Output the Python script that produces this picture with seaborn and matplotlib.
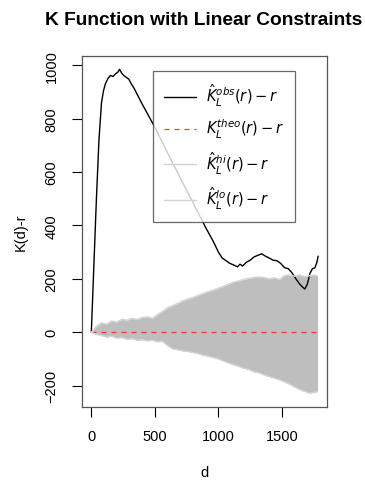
import numpy as np
import pandas as pd
import matplotlib
matplotlib.use('Agg')
import matplotlib.pyplot as plt
import seaborn as sns

# observed K_L(r) - r
d_obs = [0, 20, 40, 60, 80, 96, 110, 130, 150, 170, 190, 210, 222, 240, 255, 275,
         295, 315, 335, 400, 500, 600, 700, 800, 900, 960, 1000, 1030, 1060, 1090,
         1120, 1150, 1170, 1190, 1220, 1250, 1280, 1310, 1340, 1370, 1400, 1430,
         1460, 1490, 1520, 1550, 1580, 1610, 1640, 1665, 1680, 1700, 1720, 1740,
         1760, 1775, 1785]
k_obs = [0, 250, 500, 720, 860, 905, 930, 950, 962, 958, 968, 975, 985, 970, 962, 955,
         948, 930, 915, 855, 768, 672, 578, 486, 392, 340, 300, 278, 268, 258,
         252, 245, 255, 248, 262, 270, 282, 288, 294, 285, 278, 270,
         268, 258, 242, 238, 222, 200, 180, 168, 162, 180, 220, 238,
         242, 262, 285]

# simulation envelope
d_env = [0, 40, 80, 120, 160, 200, 240, 280, 320, 360, 400, 440, 480, 520, 560, 600,
         640, 680, 720, 760, 800, 840, 880, 920, 960, 1000, 1040, 1080, 1120, 1160,
         1200, 1240, 1280, 1320, 1360, 1400, 1440, 1480, 1520, 1560, 1600, 1640,
         1680, 1720, 1760, 1780]
k_hi = [0, 22, 35, 30, 42, 38, 48, 45, 52, 48, 55, 58, 52, 66, 78, 92,
        100, 108, 118, 125, 130, 138, 145, 152, 158, 165, 172, 180, 188, 192,
        198, 202, 205, 207, 205, 200, 204, 198, 212, 215, 210, 214,
        208, 212, 214, 210]
k_lo = [0, -8, -12, -18, -15, -22, -20, -26, -24, -30, -28, -32, -30, -36, -34, -50,
        -62, -66, -70, -72, -76, -80, -86, -90, -95, -100, -108, -115, -122, -128,
        -135, -140, -148, -152, -160, -166, -172, -178, -186, -195, -205, -215,
        -222, -228, -225, -222]

x_ticks = [0, 500, 1000, 1500]
y_ticks = [-200, 0, 200, 400, 600, 800, 1000]

sns.set_style('white')
plt.rcParams['font.family'] = ['Liberation Sans', 'DejaVu Sans']
plt.rcParams['mathtext.fontset'] = 'dejavusans'
plt.rcParams.update({'text.color': 'black', 'axes.labelcolor': 'black',
                     'xtick.color': 'black', 'ytick.color': 'black'})

obs = pd.DataFrame({'d': d_obs, 'k': k_obs})
env = pd.DataFrame({'d': d_env, 'hi': k_hi, 'lo': k_lo, 'theo': np.zeros(len(d_env))})

fig = plt.figure(figsize=(3.65, 4.81), dpi=100)
ax = fig.add_axes([0.2255, 0.1524, 0.6695, 0.7286])

ax.fill_between(env['d'], env['lo'], env['hi'], color='#bebebe', lw=0)
sns.lineplot(data=obs, x='d', y='k', color='black', lw=1,
             label=r'$\hat{K}_L^{obs}(r)-r$', ax=ax)
sns.lineplot(data=env, x='d', y='theo', color='#ff3030', lw=0.9, linestyle=(0, (4, 4)),
             label=r'$K_L^{theo}(r)-r$', ax=ax)
sns.lineplot(data=env, x='d', y='hi', color='lightgrey', lw=1,
             label=r'$\hat{K}_L^{hi}(r)-r$', ax=ax)
sns.lineplot(data=env, x='d', y='lo', color='lightgrey', lw=1,
             label=r'$\hat{K}_L^{lo}(r)-r$', ax=ax)

# R-style 4% padding
ax.set_xlim(-71, 1852)
ax.set_ylim(-279, 1034)
ax.set_xticks(x_ticks)
ax.set_yticks(y_ticks)
ax.tick_params(direction='out', length=7, width=0.8, labelsize=10.5,
               bottom=True, left=True)
ax.tick_params(axis='x', pad=9)
ax.tick_params(axis='y', pad=10)
for lab in ax.get_yticklabels():
    lab.set_rotation(90)
    lab.set_va('center')
for sp in ax.spines.values():
    sp.set_color('#555555')
    sp.set_linewidth(0.9)

ax.set_xlabel('d', fontsize=10.5, labelpad=16)
ax.set_ylabel('K(d)-r', fontsize=10.5, labelpad=12)
fig.text(0.559, 0.958, 'K Function with Linear Constraints', ha='center', va='center',
         fontsize=13.8, fontweight='bold')

leg = ax.legend(loc='upper left', bbox_to_anchor=(0.289, 0.958), frameon=True,
                fancybox=False, edgecolor='#444444', fontsize=10.5, handlelength=2.2,
                labelspacing=0.62, borderpad=0.75, handletextpad=0.7, borderaxespad=0)
leg.get_frame().set_linewidth(0.9)

fig.savefig('out.png', dpi=100)
